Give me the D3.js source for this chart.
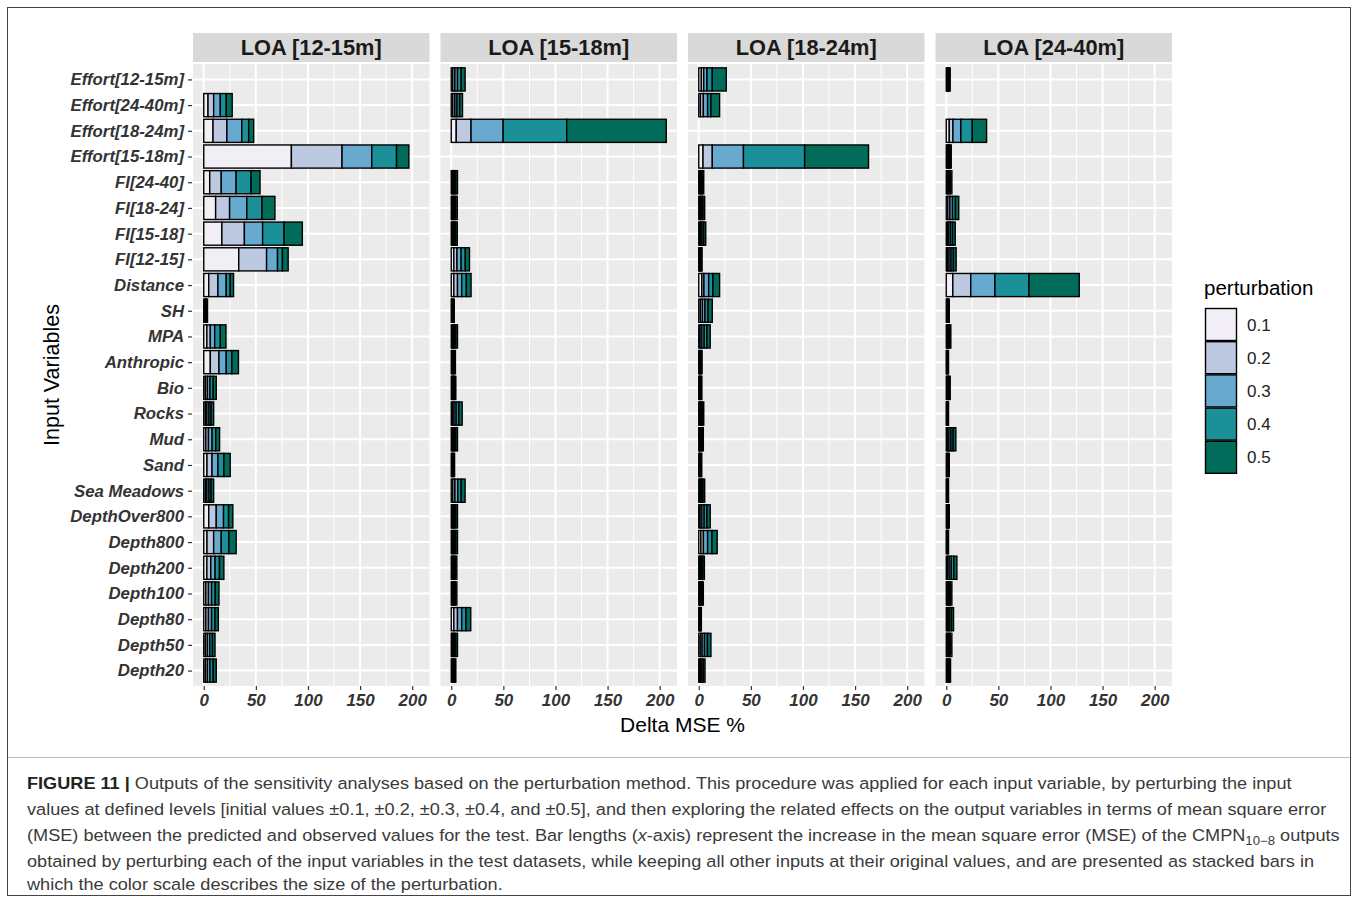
<!DOCTYPE html>
<html><head><meta charset="utf-8">
<script src="https://cdn.jsdelivr.net/npm/d3@7"></script>
<style>body{margin:0;background:#fff}svg{display:block}</style>
</head><body>
<svg id="chart" width="1358" height="901"></svg>
<script>
// ---------- data ----------
const categories = ["Effort[12-15m]","Effort[24-40m]","Effort[18-24m]","Effort[15-18m]","FI[24-40]","FI[18-24]","FI[15-18]","FI[12-15]","Distance","SH","MPA","Anthropic","Bio","Rocks","Mud","Sand","Sea Meadows","DepthOver800","Depth800","Depth200","Depth100","Depth80","Depth50","Depth20"];
const panels = ["LOA [12-15m]","LOA [15-18m]","LOA [18-24m]","LOA [24-40m]"];
const perturbations = ["0.1","0.2","0.3","0.4","0.5"];
const colors = ["#F1EEF6","#BDC9E1","#67A9CF","#1C9099","#016C59"];
const xTicks = [0,50,100,150,200];
const xMinor = [25,75,125,175];

// Delta MSE % contributed by each perturbation level (0.1..0.5), per input variable
const loa12_15 = [
 [0,0,0,0,0],[4.1,5.4,6.4,5.7,5.7],[8.9,13.3,14.3,6.6,4.8],[84.1,48.6,28.5,23.8,11.8],
 [5.7,11.1,14.3,14.3,8.6],[11.4,13.4,16.5,14.6,12.4],[17.4,21.6,17.5,20.6,17.5],[33.6,26.7,10.5,4.7,5.5],
 [4.8,8.8,8.0,3.8,3.2],[0.6,0.7,0.7,0.8,0.8],[3.0,3.3,4.2,5.4,5.4],[6.3,8.3,7.0,5.4,6.3],
 [1.5,2.0,2.5,3.0,3.0],[1.5,1.5,2.0,2.0,2.5],[2.0,2.5,3.5,3.5,3.7],[3.1,4.8,5.7,5.8,6.0],
 [1.5,1.5,2.0,2.0,2.5],[4.8,7.2,7.0,4.8,4.1],[3.1,6.4,7.3,7.3,7.0],[3.0,3.8,4.1,4.2,4.2],
 [2.0,2.5,3.0,3.5,3.6],[2.0,2.5,3.0,3.3,3.2],[1.5,2.0,2.3,2.5,2.5],[1.5,2.0,2.5,3.0,3.0]
];
const loa15_18 = [
 [1.5,2.0,2.5,3.5,3.8],[1.5,2.0,2.0,2.5,2.8],[4.8,14.2,30.8,61.0,95.5],[0,0,0,0,0],
 [0.8,1.0,1.2,1.4,1.6],[0.8,1.0,1.2,1.3,1.5],[0.8,1.0,1.2,1.3,1.5],[2.5,3.0,4.0,4.0,4.0],
 [2.5,3.5,4.0,4.5,4.5],[0.4,0.5,0.6,0.7,0.7],[0.8,1.0,1.2,1.4,1.6],[0.6,0.7,0.8,0.9,1.0],
 [0.6,0.8,0.9,1.0,1.1],[1.2,1.5,2.0,2.6,3.2],[0.8,1.0,1.2,1.4,1.6],[0.4,0.5,0.7,0.8,0.8],
 [1.5,2.0,2.8,3.2,3.8],[0.8,1.0,1.2,1.4,1.6],[0.8,1.0,1.2,1.4,1.6],[0.7,0.9,1.1,1.3,1.4],
 [0.7,0.9,1.1,1.3,1.4],[2.5,3.5,4.0,4.2,4.5],[0.8,1.0,1.2,1.4,1.6],[0.6,0.8,0.9,1.0,1.1]
];
const loa18_24 = [
 [2.5,2.3,3.1,5.1,13.4],[1.6,2.8,4.1,3.2,8.3],[0,0,0,0,0],[4.1,8.9,29.9,58.7,61.3],
 [0.6,0.8,1.0,1.1,1.3],[0.7,0.9,1.2,1.3,1.6],[0.8,1.0,1.3,1.6,2.0],[0.4,0.5,0.7,0.8,0.8],
 [3.0,2.0,4.5,4.1,6.4],[1.5,2.0,2.5,3.0,4.0],[1.3,1.7,2.2,2.6,3.2],[0.4,0.5,0.7,0.8,0.8],
 [0.4,0.5,0.6,0.7,0.8],[0.6,0.8,1.0,1.1,1.3],[0.6,0.8,0.9,1.0,1.1],[0.4,0.5,0.6,0.7,0.7],
 [0.7,0.9,1.2,1.3,1.6],[1.3,1.7,2.2,2.6,3.2],[2.0,2.5,4.0,4.2,5.0],[0.7,0.9,1.1,1.3,1.4],
 [0.6,0.8,0.9,1.0,1.1],[0.3,0.4,0.5,0.6,0.7],[1.4,1.8,2.3,2.8,3.4],[0.8,1.0,1.2,1.4,1.6]
];
const loa24_40 = [
 [0.5,0.6,0.8,0.9,1.0],[0,0,0,0,0],[2.9,3.5,7.6,11.0,13.7],[0.6,0.8,1.0,1.1,1.3],
 [0.7,0.9,1.1,1.3,1.4],[1.5,2.0,2.5,2.8,3.2],[1.0,1.3,1.7,2.0,2.6],[1.2,1.5,1.9,2.2,2.7],
 [6.3,17.2,23.2,32.7,48.2],[0.4,0.5,0.6,0.7,0.7],[0.6,0.8,0.9,1.0,1.1],[0.3,0.4,0.4,0.5,0.6],
 [0.5,0.6,0.8,0.9,1.0],[0.3,0.4,0.4,0.5,0.6],[1.1,1.5,1.9,2.1,2.6],[0.4,0.5,0.6,0.7,0.7],
 [0.3,0.4,0.4,0.5,0.6],[0.4,0.5,0.6,0.7,0.7],[0.3,0.4,0.4,0.5,0.6],[1.2,1.6,2.0,2.4,3.0],
 [0.7,0.9,1.1,1.3,1.4],[0.9,1.1,1.4,1.6,2.0],[0.7,0.9,1.1,1.3,1.4],[0.5,0.7,0.8,1.0,1.1]
];
const panelData = [loa12_15, loa15_18, loa18_24, loa24_40];

const captionLines = [
 "Outputs of the sensitivity analyses based on the perturbation method. This procedure was applied for each input variable, by perturbing the input",
 "values at defined levels [initial values \u00B10.1, \u00B10.2, \u00B10.3, \u00B10.4, and \u00B10.5], and then exploring the related effects on the output variables in terms of mean square error",
 "(MSE) between the predicted and observed values for the test. Bar lengths (x-axis) represent the increase in the mean square error (MSE) of the CMPN",
 "obtained by perturbing each of the input variables in the test datasets, while keeping all other inputs at their original values, and are presented as stacked bars in",
 "which the color scale describes the size of the perturbation."
];

// ---------- layout ----------
const svg = d3.select("#chart");
const FONT = "'Liberation Sans', Arial, Helvetica, sans-serif";
const panelTop = 64, panelBottom = 686, stripTop = 33;
const panelLeft0 = 193, panelW = 236.5, panelGap = 11;

// frame
svg.append("rect").attr("x",7.5).attr("y",7.5).attr("width",1343).attr("height",888)
  .attr("fill","none").attr("stroke","#444").attr("stroke-width",1);
svg.append("line").attr("x1",8).attr("x2",1350).attr("y1",757.5).attr("y2",757.5)
  .attr("stroke","#bbb").attr("stroke-width",1);

let maxTotal = 0;
panelData.forEach(p => p.forEach(r => { maxTotal = Math.max(maxTotal, d3.sum(r)); }));
const pad = maxTotal*0.05;

// ggplot discrete expansion: 0.6 units each side, bars width 0.9
const yPos = d3.scalePoint().domain(categories).range([panelTop, panelBottom]).padding(0.6);
const step = yPos.step();
const barH = step*0.9;

panels.forEach((name, pi) => {
  const left = panelLeft0 + pi*(panelW+panelGap);
  const x = d3.scaleLinear().domain([-pad, maxTotal+pad]).range([left, left+panelW]);
  const g = svg.append("g");
  // strip
  g.append("rect").attr("x",left).attr("y",stripTop).attr("width",panelW).attr("height",panelTop-stripTop-2)
    .attr("fill","#D9D9D9");
  g.append("text").attr("x",left+panelW/2).attr("y",(stripTop+panelTop-2)/2+7.5)
    .attr("text-anchor","middle").attr("font-family",FONT).attr("font-weight","bold")
    .attr("font-size",21.8).attr("fill","#1A1A1A").text(name);
  // panel bg
  g.append("rect").attr("x",left).attr("y",panelTop).attr("width",panelW).attr("height",panelBottom-panelTop)
    .attr("fill","#EBEBEB");
  // grid
  g.selectAll(".minor").data(xMinor).join("line")
    .attr("x1",d=>x(d)).attr("x2",d=>x(d)).attr("y1",panelTop).attr("y2",panelBottom)
    .attr("stroke","#fff").attr("stroke-width",1);
  g.selectAll(".major").data(xTicks).join("line")
    .attr("x1",d=>x(d)).attr("x2",d=>x(d)).attr("y1",panelTop).attr("y2",panelBottom)
    .attr("stroke","#fff").attr("stroke-width",2);
  g.selectAll(".hmajor").data(categories).join("line")
    .attr("x1",left).attr("x2",left+panelW).attr("y1",d=>yPos(d)).attr("y2",d=>yPos(d))
    .attr("stroke","#fff").attr("stroke-width",2);
  // bars
  const rows = panelData[pi];
  rows.forEach((vals, ci) => {
    if (d3.sum(vals) <= 0) return;
    let acc = 0;
    vals.forEach((v, k) => {
      const x0 = acc, x1 = acc + v; acc = x1;
      g.append("rect").attr("x",x(x0)).attr("width",Math.max(0,x(x1)-x(x0)))
        .attr("y",yPos(categories[ci])-barH/2).attr("height",barH)
        .attr("fill",colors[k]).attr("stroke","#000").attr("stroke-width",1.4);
    });
  });
  // x axis
  const ax = d3.axisBottom(x).tickValues(xTicks).tickSize(4).tickPadding(4);
  const axg = svg.append("g").attr("transform",`translate(0,${panelBottom})`).call(ax);
  axg.select(".domain").remove();
  axg.selectAll(".tick line").attr("stroke","#333").attr("stroke-width",1.2);
  axg.selectAll(".tick text").attr("font-family",FONT).attr("font-size",17)
    .attr("font-weight","bold").attr("font-style","italic").attr("fill","#333");
});

// y axis
const ay = d3.axisLeft(yPos).tickSize(4).tickPadding(4);
const ayg = svg.append("g").attr("transform",`translate(${panelLeft0-1},0)`).call(ay);
ayg.select(".domain").remove();
ayg.selectAll(".tick line").attr("stroke","#333").attr("stroke-width",1.2);
ayg.selectAll(".tick text").attr("font-family",FONT).attr("font-size",16.8)
  .attr("font-weight","bold").attr("font-style","italic").attr("fill","#333");

// axis titles
svg.append("text").attr("transform",`translate(59,${(panelTop+panelBottom)/2}) rotate(-90)`)
  .attr("text-anchor","middle").attr("font-family",FONT).attr("font-size",21.5).attr("fill","#000")
  .text("Input Variables");
const fullL = panelLeft0, fullR = panelLeft0 + 4*panelW + 3*panelGap;
svg.append("text").attr("x",(fullL+fullR)/2).attr("y",732)
  .attr("text-anchor","middle").attr("font-family",FONT).attr("font-size",21).attr("fill","#000")
  .text("Delta MSE %");

// legend
const lg = svg.append("g");
lg.append("text").attr("x",1204).attr("y",295).attr("font-family",FONT).attr("font-size",20.5)
  .attr("fill","#000").text("perturbation");
perturbations.forEach((p,i) => {
  const ky = 308 + i*33.2;
  lg.append("rect").attr("x",1205.5).attr("y",ky+0.5).attr("width",31).attr("height",32)
    .attr("fill",colors[i]).attr("stroke","#000").attr("stroke-width",1.4);
  lg.append("text").attr("x",1247).attr("y",ky+22.5).attr("font-family",FONT).attr("font-size",17)
    .attr("fill","#222").text(p);
});

// caption (condensed face emulated by one common horizontal scale)
const capX = 27, capY = [789, 815, 841, 867, 890];
const cg = svg.append("g").attr("font-family",FONT).attr("font-size",16.5).attr("fill","#3a3a3a");
let capScale = null;
captionLines.forEach((line, i) => {
  const t = cg.append("text").attr("x",capX).attr("y",capY[i]);
  if (i === 0) {
    t.append("tspan").attr("font-weight","bold").attr("fill","#222").text("FIGURE 11 | ");
    t.append("tspan").text(line);
  } else if (i === 2) {
    const parts = line.split("(x-axis)");
    t.append("tspan").text(parts[0] + "(");
    t.append("tspan").attr("font-style","italic").text("x");
    t.append("tspan").text("-axis)" + parts[1]);
    t.append("tspan").attr("font-size",12).attr("dy",4).text("10\u22128");
    t.append("tspan").attr("dy",-4).text(" outputs");
  } else {
    t.text(line);
  }
  if (capScale === null) capScale = 1266 / t.node().getBBox().width;
  t.attr("transform",`translate(${capX},0) scale(${capScale},1) translate(${-capX},0)`);
});
</script>
</body></html>
